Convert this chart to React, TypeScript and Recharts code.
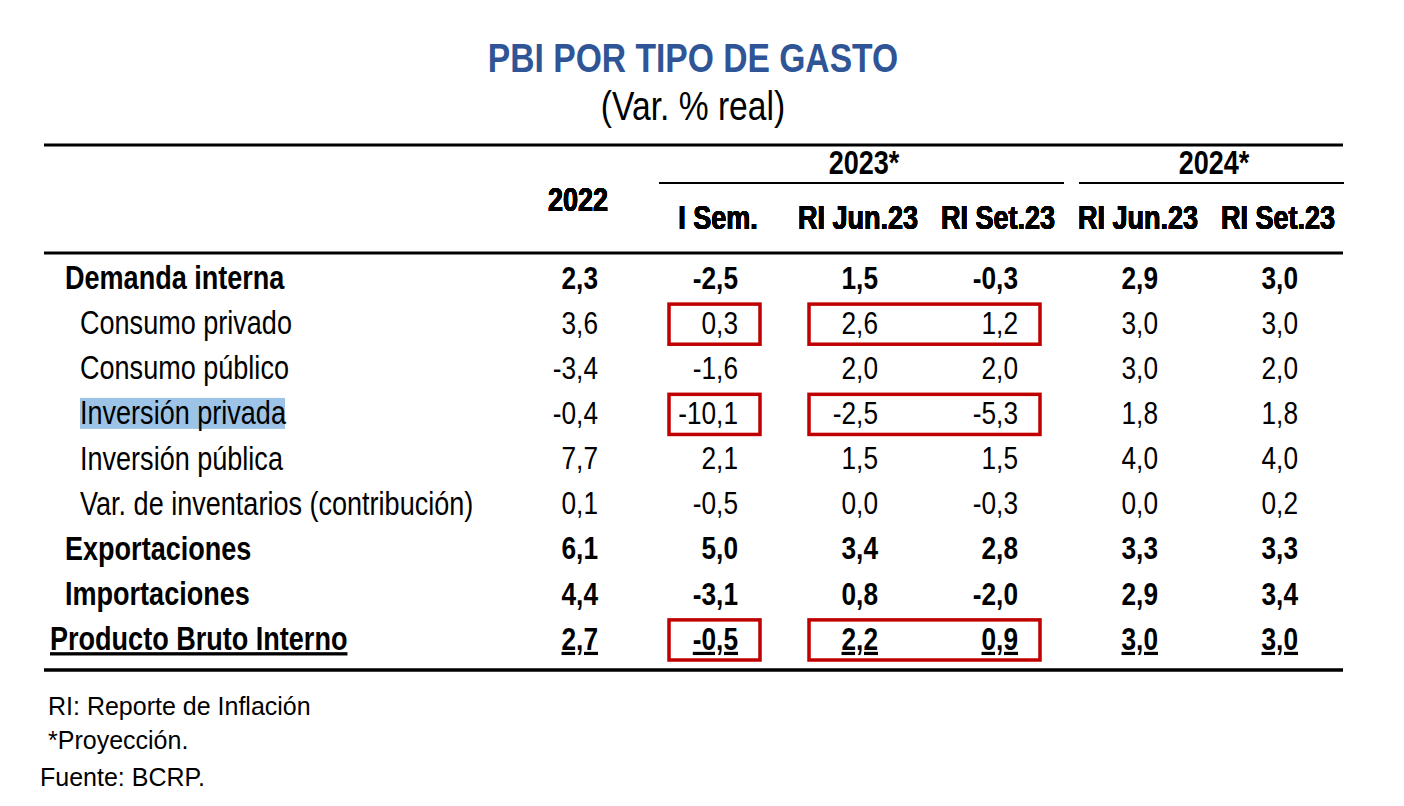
import React from "react";
import { ScatterChart, Scatter, XAxis, YAxis, ReferenceArea } from "recharts";

// no Arial Narrow available: squeeze Liberation Sans horizontally instead
const SANS = "'Liberation Sans', Arial, sans-serif";
const SQUEEZE = 0.82;

const rows = [
  "Demanda interna",
  "Consumo privado",
  "Consumo público",
  "Inversión privada",
  "Inversión pública",
  "Var. de inventarios (contribución)",
  "Exportaciones",
  "Importaciones",
  "Producto Bruto Interno",
];
// 0 = main row, 1 = sub row, 2 = total
const rowLevels = [0, 1, 1, 1, 1, 1, 0, 0, 2];

const columnKeys = ["2022", "2023 I Sem.", "2023 RI Jun.23", "2023 RI Set.23", "2024 RI Jun.23", "2024 RI Set.23"];
const columnLabels = ["2022", "I Sem.", "RI Jun.23", "RI Set.23", "RI Jun.23", "RI Set.23"];

const v2022 = [2.3, 3.6, -3.4, -0.4, 7.7, 0.1, 6.1, 4.4, 2.7];
const vISem23 = [-2.5, 0.3, -1.6, -10.1, 2.1, -0.5, 5.0, -3.1, -0.5];
const vRIJun23 = [1.5, 2.6, 2.0, -2.5, 1.5, 0.0, 3.4, 0.8, 2.2];
const vRISet23 = [-0.3, 1.2, 2.0, -5.3, 1.5, -0.3, 2.8, -2.0, 0.9];
const vRIJun24 = [2.9, 3.0, 3.0, 1.8, 4.0, 0.0, 3.3, 2.9, 3.0];
const vRISet24 = [3.0, 3.0, 2.0, 1.8, 4.0, 0.2, 3.3, 3.4, 3.0];

const columnValues = [v2022, vISem23, vRIJun23, vRISet23, vRIJun24, vRISet24];

const groups = [
  { label: "2023*", from: columnKeys[1], to: columnKeys[3] },
  { label: "2024*", from: columnKeys[4], to: columnKeys[5] },
];

// boxed cells
const boxes = [
  { row: rows[1], from: columnKeys[1], to: columnKeys[1] },
  { row: rows[1], from: columnKeys[2], to: columnKeys[3] },
  { row: rows[3], from: columnKeys[1], to: columnKeys[1] },
  { row: rows[3], from: columnKeys[2], to: columnKeys[3] },
  { row: rows[8], from: columnKeys[1], to: columnKeys[1] },
  { row: rows[8], from: columnKeys[2], to: columnKeys[3] },
];

const notes = ["RI: Reporte de Inflación", "*Proyección."];
const source = "Fuente: BCRP.";

const cells = rows.flatMap((row, r) =>
  columnKeys.map((col, c) => ({ row, col, value: columnValues[c][r], level: rowLevels[r] }))
);

const fmt = (v: number) => v.toFixed(1).replace(".", ",");

const W = 1396;
const H = 790;

function NText({ x, y, anchor = "start", size, bold = false, underline = false, fill = "#000", dy, children }: any) {
  return (
    <g transform={`translate(${x} ${y}) scale(${SQUEEZE} 1)`}>
      <text
        x={0}
        y={0}
        dy={dy}
        textAnchor={anchor}
        fontFamily={SANS}
        fontSize={size}
        fontWeight={bold ? 700 : 400}
        fill={fill}
        style={underline ? { textDecoration: "underline" } : undefined}
      >
        {children}
      </text>
    </g>
  );
}

function CellText(props: any) {
  const { cx, cy, payload } = props;
  if (cx == null || cy == null) return null;
  return (
    <NText x={cx + 20} y={cy} dy="0.35em" anchor="end" size={32} bold={payload.level !== 1} underline={payload.level === 2}>
      {fmt(payload.value)}
    </NText>
  );
}

function RowTick(props: any) {
  const { y, payload } = props;
  const i = rows.indexOf(payload.value);
  const level = rowLevels[i];
  const x = level === 0 ? 57 : level === 1 ? 72 : 42;
  return (
    <g>
      {payload.value === "Inversión privada" && <rect x={72} y={y - 15} width={205} height={31} fill="#9DC3E6" />}
      <NText x={x} y={y} dy="0.35em" size={33} bold={level !== 1} underline={level === 2}>
        {payload.value}
      </NText>
    </g>
  );
}

function ColTick(props: any) {
  const { x, payload } = props;
  const i = columnKeys.indexOf(payload.value);
  return (
    <NText x={x} y={i === 0 ? 203 : 221} anchor="middle" size={33} bold>
      {columnLabels[i]}
    </NText>
  );
}

const groupShape = (label: string) => (props: any) => {
  const { x, y, width } = props;
  return (
    <g>
      <NText x={x + width / 2 + 6} y={y - 81} anchor="middle" size={33} bold>
        {label}
      </NText>
      <line x1={x + 11} x2={x + width - 4} y1={y - 72} y2={y - 72} stroke="#000" strokeWidth={2} />
    </g>
  );
};

const boxShape = (props: any) => {
  const { x, y, width, height } = props;
  return <rect x={x + 21} y={y + 4} width={width - 49} height={height - 5} fill="none" stroke="#C00000" strokeWidth={3.5} />;
};

export default function App() {
  return (
    <div style={{ position: "relative", width: W, height: H }}>
      <ScatterChart width={W} height={H} margin={{ top: 147, right: 56, bottom: 137, left: 0 }}>
        <XAxis
          xAxisId={0}
          type="category"
          dataKey="col"
          scale="band"
          allowDuplicatedCategory={false}
          orientation="top"
          height={100}
          axisLine={false}
          tickLine={false}
          tick={<ColTick />}
          interval={0}
        />
        <YAxis
          yAxisId={0}
          type="category"
          dataKey="row"
          scale="band"
          allowDuplicatedCategory={false}
          reversed
          width={500}
          axisLine={false}
          tickLine={false}
          tick={<RowTick />}
          interval={0}
        />
        {groups.map((g) => (
          <ReferenceArea key={g.label} x1={g.from} x2={g.to} ifOverflow="visible" shape={groupShape(g.label)} />
        ))}
        {boxes.map((b, i) => (
          <ReferenceArea key={i} x1={b.from} x2={b.to} y1={b.row} y2={b.row} ifOverflow="visible" shape={boxShape} />
        ))}
        <Scatter data={cells} shape={<CellText />} isAnimationActive={false} />
      </ScatterChart>
      <svg width={W} height={H} style={{ position: "absolute", left: 0, top: 0, pointerEvents: "none" }}>
        <NText x={685} y={64} anchor="middle" size={41} bold fill="#2F5597">
          PBI POR TIPO DE GASTO
        </NText>
        <NText x={685} y={112} anchor="middle" size={41}>
          (Var. % real)
        </NText>
        <line x1={36} x2={1335} y1={137} y2={137} stroke="#000" strokeWidth={3} />
        <line x1={36} x2={1335} y1={245} y2={245} stroke="#000" strokeWidth={3} />
        <line x1={36} x2={1335} y1={662} y2={662} stroke="#000" strokeWidth={3.5} />
        {notes.map((n, i) => (
          <text key={n} x={40} y={707 + i * 34} fontFamily={SANS} fontSize={25} fill="#000">
            {n}
          </text>
        ))}
        <text x={32} y={778} fontFamily={SANS} fontSize={25} fill="#000">
          {source}
        </text>
      </svg>
    </div>
  );
}
